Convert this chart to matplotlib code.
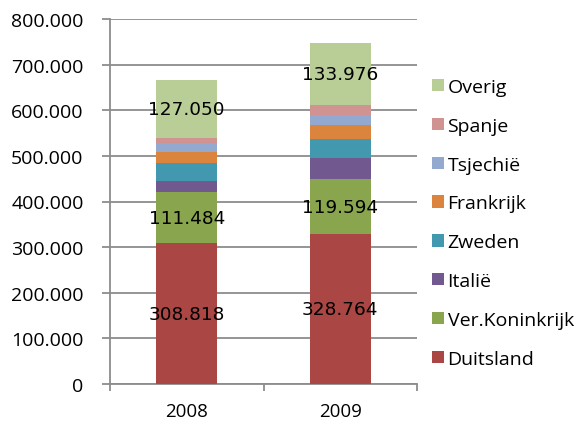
import matplotlib
matplotlib.use('Agg')
import matplotlib.pyplot as plt
from matplotlib.ticker import FuncFormatter
from matplotlib.patches import Patch

years = ['2008', '2009']
countries = ['Duitsland', 'Ver.Koninkrijk', 'Italië', 'Zweden',
             'Frankrijk', 'Tsjechië', 'Spanje', 'Overig']
duitsland = [308818, 328764]
ver_koninkrijk = [111484, 119594]
italie = [25700, 48000]
zweden = [39400, 40800]
frankrijk = [24100, 31400]
tsjechie = [18200, 21900]
spanje = [11000, 21900]
overig = [127050, 133976]
series = [duitsland, ver_koninkrijk, italie, zweden, frankrijk, tsjechie, spanje, overig]
labelled = {'Duitsland', 'Ver.Koninkrijk', 'Overig'}

colors = ['#AA4643', '#89A54E', '#71588F', '#4198AF',
          '#DB843D', '#93A9CF', '#D19392', '#B9CD96']

plt.rcParams['font.family'] = ['Open Sans', 'DejaVu Sans']

fig = plt.figure(figsize=(5.8, 4.27), dpi=100)
ax = fig.add_axes([110 / 580, 42 / 427, 307 / 580, 365 / 427])

x = list(range(len(years)))
bottom = [0, 0]
for name, vals, col in zip(countries, series, colors):
    ax.bar(x, vals, width=0.4, bottom=bottom, color=col, zorder=3)
    if name in labelled:
        for xi, v, b in zip(x, vals, bottom):
            ax.text(xi, b + v / 2, f'{v:,}'.replace(',', '.'), ha='center', va='center',
                    fontsize=13.3, family='DejaVu Sans', color='black', zorder=4)
    bottom = [b + v for b, v in zip(bottom, vals)]

ax.set_xlim(-0.5, 1.5)
ax.set_ylim(0, 800000)
ax.set_yticks(range(0, 800001, 100000))
ax.yaxis.set_major_formatter(FuncFormatter(lambda v, p: f'{int(v):,}'.replace(',', '.')))
ax.grid(axis='y', color='#8c8c8c', linewidth=1.3, zorder=0)
ax.set_xticks(x)
ax.set_xticklabels(years)
ax.set_xticks([-0.5, 0.5, 1.5], minor=True)
ax.tick_params(axis='x', which='major', length=0, pad=13, labelsize=13.5)
ax.tick_params(axis='x', which='minor', length=5, color='#8c8c8c', width=1.3)
ax.tick_params(axis='y', length=6, color='#8c8c8c', width=1.3, labelsize=14, pad=13)
for s in ['top', 'right']:
    ax.spines[s].set_visible(False)
for s in ['left', 'bottom']:
    ax.spines[s].set_color('#8c8c8c')
    ax.spines[s].set_linewidth(1.3)

handles = [Patch(facecolor=c, label=n) for n, c in zip(countries, colors)]
handles = handles[::-1]
fig.legend(handles=handles, loc='upper left', bbox_to_anchor=(432 / 580, 1 - 79 / 427),
           frameon=False, fontsize=14, handlelength=0.6, handleheight=0.6,
           handletextpad=0.2, labelspacing=1.07, borderaxespad=0, borderpad=0)

fig.savefig('out.png', dpi=100)
